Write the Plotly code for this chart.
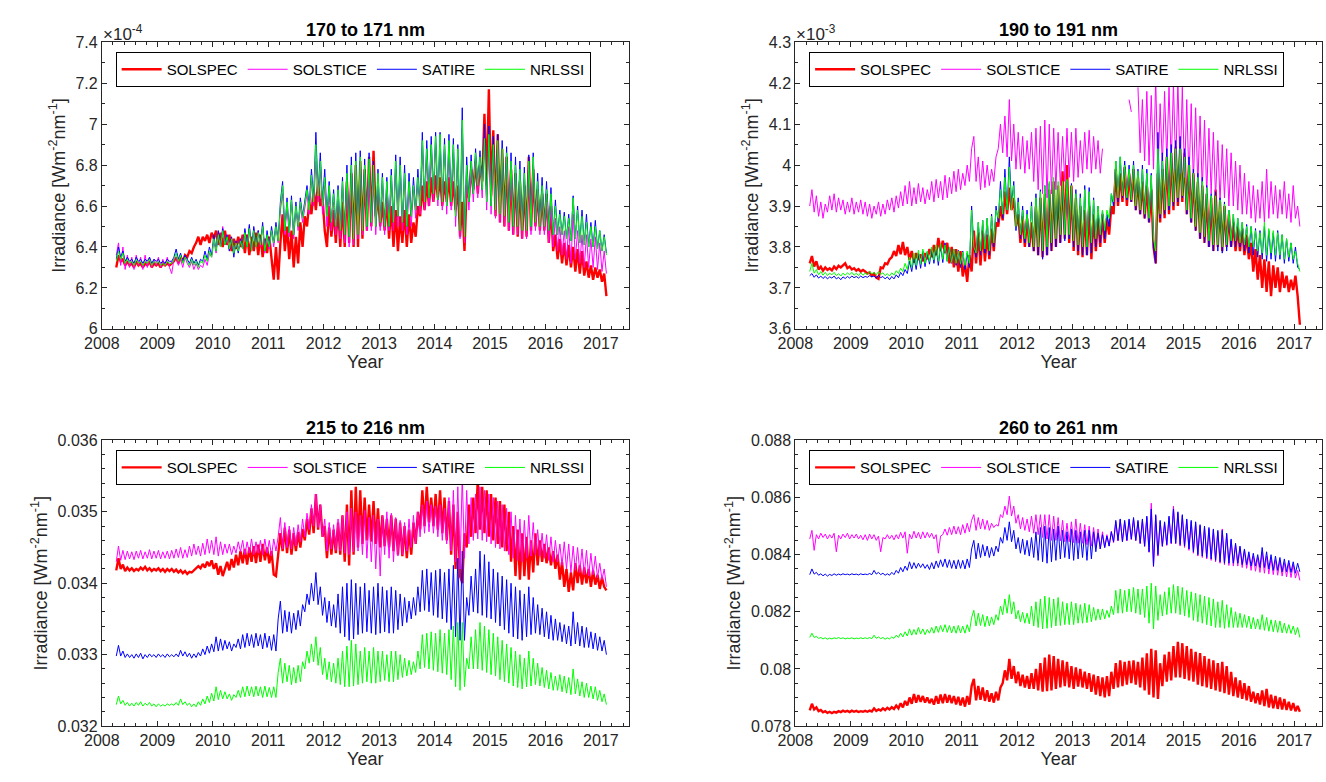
import numpy as np
import plotly.graph_objects as go

# one sample every 0.04 yr, 2008.26 .. 2017.10 (each row below = one year)
years = np.round(2008.26 + 0.04 * np.arange(222), 2)

series_names = ["SOLSPEC", "SOLSTICE", "SATIRE", "NRLSSI"]
series_colors = ["#ff0000", "#ff00ff", "#0000ff", "#00ff00"]
series_widths = [2.4, 1, 1, 1]

# 170-171 nm  (units of 1e-4 W m-2 nm-1)
b170_solspec = [
    6.30, 6.36, 6.33, 6.34, 6.31, 6.33, 6.31, 6.32, 6.30, 6.33, 6.31, 6.32, 6.30, 6.32, 6.31, 6.33, 6.30, 6.32, 6.31, 6.32, 6.30, 6.32, 6.31, 6.32, 6.31,
    6.32, 6.33, 6.35, 6.32, 6.35, 6.33, 6.36, 6.35, 6.38, 6.37, 6.40, 6.42, 6.45, 6.41, 6.45, 6.43, 6.46, 6.42, 6.47, 6.44, 6.48, 6.41, 6.47, 6.40, 6.48,
    6.41, 6.46, 6.38, 6.44, 6.39, 6.45, 6.40, 6.46, 6.37, 6.46, 6.36, 6.45, 6.38, 6.47, 6.36, 6.46, 6.35, 6.44, 6.37, 6.45, 6.36, 6.24, 6.40, 6.24, 6.42,
    6.56, 6.38, 6.50, 6.34, 6.48, 6.30, 6.45, 6.32, 6.52, 6.40, 6.55, 6.50, 6.62, 6.56, 6.68, 6.58, 6.72, 6.60, 6.64, 6.48, 6.40, 6.60, 6.45, 6.58, 6.42,
    6.60, 6.40, 6.62, 6.40, 6.72, 6.42, 6.76, 6.40, 6.80, 6.40, 6.82, 6.44, 6.78, 6.48, 6.84, 6.50, 6.87, 6.55, 6.65, 6.50, 6.62, 6.48, 6.64, 6.44, 6.60,
    6.40, 6.58, 6.38, 6.55, 6.42, 6.58, 6.40, 6.56, 6.42, 6.52, 6.45, 6.60, 6.55, 6.70, 6.58, 6.72, 6.60, 6.74, 6.62, 6.75, 6.64, 6.74, 6.60, 6.72, 6.62,
    6.74, 6.60, 6.72, 6.58, 6.70, 6.45, 6.62, 6.38, 6.70, 6.64, 6.78, 6.68, 6.82, 6.66, 6.80, 6.72, 7.05, 6.70, 7.17, 6.65, 6.97, 6.55, 6.95, 6.52, 6.88,
    6.50, 6.84, 6.48, 6.78, 6.46, 6.76, 6.45, 6.72, 6.44, 6.70, 6.45, 6.84, 6.48, 6.78, 6.50, 6.68, 6.48, 6.66, 6.48, 6.66, 6.42, 6.60, 6.38, 6.46, 6.34,
    6.44, 6.32, 6.42, 6.31, 6.41, 6.30, 6.40, 6.28, 6.39, 6.27, 6.38, 6.26, 6.33, 6.25, 6.31, 6.24, 6.30, 6.25, 6.29, 6.23, 6.27, 6.16]
b170_solstice = [
    6.36, 6.42, 6.31, 6.40, 6.29, 6.36, 6.30, 6.35, 6.29, 6.36, 6.31, 6.35, 6.29, 6.36, 6.30, 6.35, 6.30, 6.34, 6.31, 6.35, 6.30, 6.34, 6.31, 6.35, 6.30,
    6.27, 6.34, 6.35, 6.31, 6.34, 6.30, 6.35, 6.32, 6.30, 6.33, 6.29, 6.32, 6.29, 6.31, 6.30, 6.34, 6.31, 6.37, 6.35, 6.43, 6.37, 6.46, 6.40, 6.50, 6.41,
    6.44, 6.38, 6.44, 6.37, 6.43, 6.38, 6.44, 6.39, 6.48, 6.40, 6.50, 6.38, 6.49, 6.40, 6.48, 6.40, 6.50, 6.37, 6.46, 6.39, 6.48, 6.40, 6.50, 6.42, 6.58,
    6.66, 6.46, 6.60, 6.45, 6.62, 6.44, 6.58, 6.48, 6.60, 6.52, 6.58, 6.66, 6.56, 6.72, 6.60, 6.82, 6.62, 6.78, 6.56, 6.70, 6.50, 6.66, 6.48, 6.62, 6.46,
    6.64, 6.44, 6.70, 6.42, 6.74, 6.40, 6.78, 6.41, 6.80, 6.44, 6.82, 6.46, 6.76, 6.48, 6.74, 6.48, 6.72, 6.46, 6.70, 6.48, 6.70, 6.46, 6.68, 6.48, 6.72,
    6.48, 6.78, 6.50, 6.76, 6.48, 6.72, 6.46, 6.70, 6.50, 6.68, 6.54, 6.72, 6.56, 6.88, 6.58, 6.84, 6.60, 6.86, 6.62, 6.90, 6.60, 6.90, 6.58, 6.88, 6.56,
    6.88, 6.58, 6.86, 6.50, 6.84, 6.44, 6.98, 6.42, 6.76, 6.58, 6.78, 6.62, 6.84, 6.64, 6.82, 6.64, 6.96, 6.58, 6.94, 6.56, 6.88, 6.54, 6.88, 6.52, 6.86,
    6.50, 6.82, 6.48, 6.80, 6.46, 6.76, 6.46, 6.74, 6.44, 6.72, 6.44, 6.78, 6.46, 6.80, 6.48, 6.68, 6.46, 6.66, 6.46, 6.62, 6.42, 6.60, 6.40, 6.54, 6.38,
    6.50, 6.36, 6.48, 6.34, 6.50, 6.32, 6.56, 6.34, 6.48, 6.32, 6.46, 6.30, 6.46, 6.30, 6.44, 6.30, 6.45, 6.29, 6.42, 6.28, 6.38, 6.27]
b170_satire = [
    6.34, 6.40, 6.35, 6.38, 6.33, 6.35, 6.33, 6.34, 6.32, 6.35, 6.33, 6.34, 6.32, 6.34, 6.33, 6.35, 6.32, 6.34, 6.33, 6.34, 6.32, 6.33, 6.32, 6.34, 6.33,
    6.33, 6.35, 6.39, 6.34, 6.37, 6.33, 6.36, 6.34, 6.32, 6.35, 6.32, 6.34, 6.31, 6.34, 6.33, 6.38, 6.34, 6.40, 6.36, 6.46, 6.38, 6.48, 6.40, 6.49, 6.41,
    6.46, 6.38, 6.45, 6.35, 6.43, 6.37, 6.44, 6.39, 6.49, 6.40, 6.51, 6.38, 6.50, 6.40, 6.48, 6.41, 6.52, 6.38, 6.48, 6.40, 6.50, 6.42, 6.52, 6.43, 6.62,
    6.72, 6.48, 6.64, 6.47, 6.65, 6.46, 6.62, 6.50, 6.64, 6.55, 6.62, 6.70, 6.60, 6.78, 6.64, 6.96, 6.66, 6.86, 6.62, 6.78, 6.56, 6.72, 6.52, 6.68, 6.50,
    6.70, 6.48, 6.74, 6.46, 6.80, 6.45, 6.84, 6.44, 6.86, 6.46, 6.87, 6.48, 6.83, 6.50, 6.86, 6.52, 6.82, 6.50, 6.78, 6.52, 6.76, 6.50, 6.74, 6.50, 6.78,
    6.52, 6.85, 6.55, 6.84, 6.52, 6.80, 6.50, 6.76, 6.55, 6.74, 6.58, 6.78, 6.60, 6.96, 6.62, 6.92, 6.64, 6.94, 6.66, 6.96, 6.63, 6.96, 6.62, 6.93, 6.60,
    6.95, 6.62, 6.93, 6.55, 6.90, 6.48, 7.08, 6.45, 6.84, 6.62, 6.85, 6.66, 6.88, 6.70, 6.87, 6.68, 7.00, 6.62, 6.99, 6.60, 6.94, 6.58, 6.95, 6.56, 6.92,
    6.55, 6.89, 6.52, 6.86, 6.50, 6.84, 6.50, 6.82, 6.48, 6.79, 6.48, 6.85, 6.50, 6.86, 6.52, 6.76, 6.50, 6.74, 6.50, 6.72, 6.48, 6.69, 6.46, 6.63, 6.46,
    6.58, 6.46, 6.57, 6.44, 6.56, 6.43, 6.65, 6.44, 6.60, 6.42, 6.58, 6.41, 6.56, 6.40, 6.52, 6.40, 6.53, 6.39, 6.48, 6.38, 6.46, 6.37]
b170_nrlssi = [
    6.33, 6.38, 6.34, 6.37, 6.32, 6.34, 6.32, 6.33, 6.31, 6.34, 6.32, 6.33, 6.31, 6.33, 6.32, 6.34, 6.31, 6.33, 6.32, 6.33, 6.31, 6.32, 6.31, 6.33, 6.32,
    6.32, 6.34, 6.37, 6.33, 6.36, 6.32, 6.35, 6.33, 6.31, 6.34, 6.31, 6.33, 6.30, 6.33, 6.32, 6.36, 6.33, 6.38, 6.35, 6.44, 6.38, 6.46, 6.40, 6.48, 6.41,
    6.45, 6.39, 6.44, 6.37, 6.42, 6.38, 6.43, 6.39, 6.47, 6.40, 6.49, 6.38, 6.48, 6.40, 6.47, 6.41, 6.50, 6.38, 6.46, 6.40, 6.48, 6.42, 6.50, 6.43, 6.60,
    6.70, 6.48, 6.62, 6.47, 6.63, 6.46, 6.60, 6.50, 6.62, 6.54, 6.60, 6.68, 6.58, 6.75, 6.62, 6.90, 6.65, 6.82, 6.60, 6.74, 6.55, 6.70, 6.52, 6.66, 6.50,
    6.68, 6.48, 6.72, 6.46, 6.76, 6.45, 6.80, 6.44, 6.82, 6.46, 6.84, 6.48, 6.80, 6.50, 6.83, 6.52, 6.80, 6.50, 6.76, 6.52, 6.74, 6.50, 6.72, 6.50, 6.75,
    6.52, 6.82, 6.55, 6.80, 6.52, 6.76, 6.50, 6.72, 6.55, 6.70, 6.58, 6.74, 6.60, 6.92, 6.62, 6.88, 6.64, 6.90, 6.66, 6.94, 6.63, 6.95, 6.62, 6.90, 6.60,
    6.92, 6.62, 6.90, 6.55, 6.88, 6.48, 7.02, 6.45, 6.80, 6.62, 6.82, 6.66, 6.86, 6.70, 6.84, 6.68, 6.93, 6.62, 6.95, 6.60, 6.90, 6.58, 6.92, 6.56, 6.88,
    6.55, 6.86, 6.52, 6.82, 6.50, 6.80, 6.50, 6.78, 6.48, 6.76, 6.48, 6.82, 6.50, 6.84, 6.52, 6.72, 6.50, 6.70, 6.50, 6.68, 6.48, 6.66, 6.46, 6.60, 6.46,
    6.56, 6.46, 6.55, 6.44, 6.54, 6.43, 6.64, 6.44, 6.58, 6.42, 6.55, 6.41, 6.52, 6.40, 6.50, 6.40, 6.50, 6.39, 6.48, 6.38, 6.45, 6.36]

# 190-191 nm  (units of 1e-3 W m-2 nm-1); SOLSTICE has a data gap around 2013.6-2014.2
b190_solspec = [
    3.760, 3.778, 3.752, 3.765, 3.745, 3.752, 3.742, 3.750, 3.744, 3.748, 3.743, 3.752, 3.746, 3.754, 3.750, 3.756, 3.760, 3.748, 3.752, 3.745, 3.748, 3.742, 3.746, 3.740, 3.744,
    3.740, 3.735, 3.738, 3.730, 3.735, 3.725, 3.722, 3.750, 3.748, 3.760, 3.758, 3.770, 3.775, 3.790, 3.778, 3.805, 3.782, 3.812, 3.780, 3.800, 3.768, 3.790, 3.762, 3.785, 3.768,
    3.782, 3.765, 3.785, 3.770, 3.795, 3.775, 3.805, 3.780, 3.822, 3.790, 3.815, 3.785, 3.810, 3.760, 3.800, 3.750, 3.795, 3.740, 3.790, 3.728, 3.760, 3.715, 3.780, 3.740, 3.840,
    3.760, 3.835, 3.755, 3.840, 3.765, 3.830, 3.770, 3.845, 3.790, 3.860, 3.850, 3.900, 3.865, 3.935, 3.880, 3.945, 3.890, 3.920, 3.850, 3.880, 3.810, 3.875, 3.800, 3.870, 3.800,
    3.860, 3.790, 3.900, 3.780, 3.920, 3.775, 3.930, 3.780, 3.940, 3.790, 3.960, 3.800, 3.950, 3.810, 3.985, 3.820, 4.000, 3.810, 3.950, 3.790, 3.920, 3.780, 3.900, 3.775, 3.890,
    3.780, 3.900, 3.770, 3.880, 3.790, 3.870, 3.800, 3.880, 3.810, 3.870, 3.830, 3.900, 3.880, 3.990, 3.900, 3.980, 3.910, 3.995, 3.900, 3.980, 3.910, 3.990, 3.890, 3.970, 3.880,
    3.960, 3.870, 3.950, 3.860, 3.940, 3.800, 3.760, 3.980, 3.860, 3.990, 3.870, 4.020, 3.880, 4.030, 3.890, 4.045, 3.900, 4.040, 3.910, 4.030, 3.880, 4.000, 3.860, 3.980, 3.840,
    3.960, 3.820, 3.950, 3.810, 3.930, 3.800, 3.920, 3.790, 3.940, 3.800, 3.910, 3.790, 3.900, 3.800, 3.880, 3.800, 3.860, 3.790, 3.850, 3.790, 3.845, 3.780, 3.830, 3.770, 3.810,
    3.740, 3.795, 3.720, 3.780, 3.700, 3.770, 3.690, 3.765, 3.680, 3.755, 3.700, 3.750, 3.690, 3.740, 3.700, 3.730, 3.690, 3.720, 3.695, 3.730, 3.680, 3.610]
b190_solstice = [
    3.900, 3.940, 3.885, 3.925, 3.875, 3.910, 3.870, 3.905, 3.885, 3.925, 3.890, 3.930, 3.885, 3.920, 3.890, 3.915, 3.880, 3.910, 3.885, 3.920, 3.880, 3.910, 3.885, 3.915, 3.880,
    3.910, 3.875, 3.905, 3.870, 3.900, 3.880, 3.910, 3.875, 3.905, 3.880, 3.915, 3.890, 3.920, 3.885, 3.925, 3.895, 3.935, 3.900, 3.950, 3.905, 3.960, 3.900, 3.945, 3.905, 3.955,
    3.910, 3.945, 3.905, 3.940, 3.915, 3.960, 3.910, 3.965, 3.920, 3.960, 3.915, 3.975, 3.920, 3.970, 3.930, 3.985, 3.935, 3.990, 3.940, 3.980, 3.950, 4.000, 3.960, 4.040, 4.070,
    3.960, 4.020, 3.940, 4.010, 3.945, 4.000, 3.950, 3.990, 3.960, 4.020, 4.040, 4.100, 4.030, 4.120, 4.020, 4.160, 4.010, 4.100, 3.990, 4.080, 3.990, 4.070, 3.980, 4.060, 3.990,
    4.080, 3.960, 4.090, 3.940, 4.095, 3.930, 4.110, 3.920, 4.100, 3.930, 4.090, 3.940, 4.080, 3.950, 4.070, 3.960, 4.090, 3.970, 4.080, 3.960, 4.090, 3.970, 4.060, 3.980, 4.080,
    3.990, 4.085, 3.980, 4.070, 3.990, 4.060, 3.980, 4.040, None, None, None, None, None, None, None, None, None, None, None, 4.160, 4.130, None, None, 4.190, 4.030,
    4.160, 4.010, 4.180, 4.000, 4.170, 3.990, 4.210, 3.970, 4.150, 4.000, 4.180, 4.010, 4.190, 4.000, 4.200, 3.990, 4.205, 3.980, 4.190, 3.970, 4.160, 3.960, 4.150, 3.960, 4.140,
    3.950, 4.120, 3.940, 4.110, 3.930, 4.090, 3.930, 4.080, 3.920, 4.060, 3.910, 4.050, 3.920, 4.040, 3.900, 4.030, 3.900, 4.010, 3.890, 4.000, 3.880, 3.980, 3.880, 3.960, 3.870,
    3.950, 3.860, 3.940, 3.870, 3.960, 3.860, 3.990, 3.870, 3.960, 3.880, 3.950, 3.870, 3.940, 3.880, 3.960, 3.870, 3.930, 3.860, 3.950, 3.870, 3.900, 3.850]
b190_satire = [
    3.730, 3.735, 3.726, 3.732, 3.724, 3.729, 3.723, 3.728, 3.722, 3.727, 3.724, 3.729, 3.722, 3.726, 3.720, 3.727, 3.723, 3.728, 3.724, 3.729, 3.725, 3.728, 3.724, 3.729, 3.725,
    3.728, 3.726, 3.730, 3.727, 3.729, 3.724, 3.731, 3.725, 3.728, 3.722, 3.727, 3.720, 3.728, 3.722, 3.732, 3.725, 3.738, 3.730, 3.745, 3.735, 3.765, 3.740, 3.775, 3.745, 3.785,
    3.748, 3.790, 3.752, 3.788, 3.758, 3.795, 3.760, 3.800, 3.755, 3.805, 3.762, 3.810, 3.765, 3.800, 3.760, 3.795, 3.755, 3.792, 3.750, 3.790, 3.745, 3.785, 3.750, 3.900, 3.800,
    3.775, 3.860, 3.780, 3.865, 3.785, 3.870, 3.780, 3.880, 3.800, 3.900, 3.860, 3.960, 3.870, 3.990, 3.890, 4.020, 3.900, 3.960, 3.840, 3.920, 3.820, 3.900, 3.810, 3.890, 3.800,
    3.910, 3.790, 3.930, 3.780, 3.940, 3.770, 3.950, 3.780, 3.955, 3.790, 3.960, 3.800, 3.945, 3.810, 3.950, 3.815, 3.960, 3.820, 3.955, 3.800, 3.940, 3.790, 3.930, 3.780, 3.950,
    3.780, 3.945, 3.785, 3.920, 3.800, 3.900, 3.810, 3.890, 3.820, 3.880, 3.850, 3.930, 3.900, 4.010, 3.910, 4.020, 3.920, 4.010, 3.915, 4.000, 3.910, 4.010, 3.890, 3.990, 3.880,
    4.000, 3.870, 3.990, 3.860, 3.980, 3.800, 3.760, 4.080, 3.870, 4.030, 3.880, 4.040, 3.890, 4.050, 3.900, 4.060, 3.910, 4.070, 3.920, 4.040, 3.880, 4.020, 3.860, 3.990, 3.840,
    3.980, 3.820, 3.970, 3.810, 3.950, 3.800, 3.930, 3.790, 3.935, 3.790, 3.920, 3.785, 3.910, 3.790, 3.890, 3.800, 3.880, 3.800, 3.870, 3.800, 3.860, 3.790, 3.855, 3.785, 3.850,
    3.780, 3.845, 3.775, 3.840, 3.770, 3.850, 3.765, 3.840, 3.770, 3.835, 3.765, 3.840, 3.770, 3.830, 3.760, 3.820, 3.765, 3.810, 3.760, 3.800, 3.750, 3.745]
b190_nrlssi = [
    3.740, 3.760, 3.736, 3.745, 3.732, 3.740, 3.731, 3.738, 3.730, 3.736, 3.732, 3.738, 3.730, 3.735, 3.729, 3.736, 3.731, 3.737, 3.732, 3.738, 3.731, 3.736, 3.730, 3.737, 3.731,
    3.736, 3.733, 3.740, 3.734, 3.738, 3.732, 3.740, 3.733, 3.737, 3.730, 3.735, 3.729, 3.737, 3.731, 3.742, 3.735, 3.748, 3.740, 3.760, 3.745, 3.775, 3.750, 3.785, 3.755, 3.792,
    3.758, 3.795, 3.760, 3.790, 3.765, 3.800, 3.768, 3.805, 3.765, 3.808, 3.770, 3.805, 3.765, 3.800, 3.762, 3.795, 3.760, 3.790, 3.758, 3.788, 3.755, 3.790, 3.760, 3.890, 3.800,
    3.785, 3.860, 3.790, 3.865, 3.795, 3.870, 3.790, 3.875, 3.810, 3.890, 3.870, 3.940, 3.880, 3.970, 3.890, 3.995, 3.890, 3.950, 3.850, 3.910, 3.830, 3.890, 3.820, 3.880, 3.810,
    3.900, 3.800, 3.920, 3.800, 3.935, 3.790, 3.950, 3.800, 3.960, 3.810, 3.970, 3.820, 3.960, 3.830, 3.960, 3.830, 3.965, 3.830, 3.950, 3.815, 3.930, 3.805, 3.920, 3.800, 3.940,
    3.800, 3.935, 3.810, 3.915, 3.820, 3.900, 3.830, 3.890, 3.840, 3.890, 3.870, 3.930, 3.910, 4.010, 3.920, 4.020, 3.925, 4.000, 3.920, 3.990, 3.915, 4.000, 3.900, 3.985, 3.890,
    3.990, 3.880, 3.980, 3.870, 3.975, 3.820, 3.790, 4.040, 3.880, 4.010, 3.890, 4.020, 3.900, 4.030, 3.910, 4.040, 3.920, 4.040, 3.925, 4.020, 3.890, 4.000, 3.870, 3.980, 3.850,
    3.970, 3.835, 3.960, 3.825, 3.945, 3.815, 3.925, 3.805, 3.925, 3.805, 3.915, 3.800, 3.905, 3.805, 3.890, 3.815, 3.880, 3.815, 3.870, 3.810, 3.860, 3.805, 3.850, 3.800, 3.850,
    3.800, 3.840, 3.790, 3.835, 3.785, 3.860, 3.780, 3.845, 3.785, 3.840, 3.780, 3.835, 3.780, 3.830, 3.770, 3.820, 3.775, 3.810, 3.770, 3.790, 3.760, 3.740]

# 215-216 nm  (units of 1e-3 W m-2 nm-1)
b215_solspec = [
    34.18, 34.35, 34.20, 34.26, 34.17, 34.22, 34.18, 34.21, 34.17, 34.20, 34.18, 34.22, 34.19, 34.23, 34.18, 34.21, 34.17, 34.20, 34.18, 34.21, 34.17, 34.20, 34.16, 34.20, 34.17,
    34.20, 34.16, 34.19, 34.15, 34.18, 34.14, 34.17, 34.13, 34.16, 34.15, 34.18, 34.20, 34.24, 34.21, 34.27, 34.22, 34.30, 34.24, 34.32, 34.20, 34.28, 34.12, 34.24, 34.10, 34.22,
    34.30, 34.18, 34.34, 34.22, 34.40, 34.25, 34.45, 34.28, 34.48, 34.26, 34.50, 34.30, 34.52, 34.28, 34.54, 34.30, 34.55, 34.32, 34.50, 34.28, 34.45, 34.12, 34.10, 34.40, 34.70,
    34.45, 34.78, 34.42, 34.75, 34.40, 34.70, 34.45, 34.72, 34.50, 34.76, 34.60, 34.90, 34.68, 35.05, 34.70, 35.25, 34.75, 35.10, 34.65, 34.80, 34.35, 34.78, 34.40, 34.75, 34.42,
    34.85, 34.40, 34.95, 34.30, 35.10, 34.25, 35.30, 34.40, 35.35, 34.50, 35.30, 34.55, 35.20, 34.60, 35.10, 34.58, 35.15, 34.55, 35.05, 34.50, 34.95, 34.52, 34.90, 34.50, 34.95,
    34.45, 34.90, 34.40, 34.85, 34.38, 34.80, 34.35, 34.75, 34.40, 34.85, 34.55, 35.00, 34.75, 35.30, 34.80, 35.35, 34.85, 35.20, 34.80, 35.25, 34.75, 35.30, 34.70, 35.20, 34.60,
    35.15, 34.40, 35.10, 34.20, 35.00, 34.10, 34.00, 34.70, 34.50, 35.10, 34.65, 35.20, 34.70, 35.45, 34.75, 35.35, 34.70, 35.30, 34.65, 35.25, 34.60, 35.20, 34.55, 35.15, 34.50,
    35.10, 34.45, 35.00, 34.30, 34.80, 34.10, 34.75, 34.05, 34.70, 34.10, 34.65, 34.05, 34.60, 34.15, 34.70, 34.25, 34.60, 34.30, 34.55, 34.28, 34.50, 34.25, 34.45, 34.20, 34.40,
    34.05, 34.30, 33.95, 34.20, 33.88, 34.15, 33.90, 34.28, 34.00, 34.25, 33.98, 34.22, 34.00, 34.20, 33.95, 34.18, 33.98, 34.12, 33.92, 34.08, 33.95, 33.90]
b215_solstice = [
    34.30, 34.52, 34.32, 34.46, 34.33, 34.45, 34.34, 34.44, 34.33, 34.45, 34.35, 34.46, 34.34, 34.44, 34.35, 34.47, 34.34, 34.45, 34.35, 34.46, 34.34, 34.44, 34.35, 34.45, 34.34,
    34.46, 34.35, 34.48, 34.36, 34.50, 34.35, 34.47, 34.36, 34.52, 34.38, 34.55, 34.40, 34.52, 34.38, 34.56, 34.40, 34.62, 34.42, 34.60, 34.40, 34.65, 34.38, 34.58, 34.40, 34.55,
    34.42, 34.55, 34.40, 34.52, 34.42, 34.58, 34.44, 34.60, 34.40, 34.58, 34.42, 34.62, 34.40, 34.58, 34.42, 34.60, 34.40, 34.62, 34.42, 34.60, 34.38, 34.62, 34.45, 34.65, 34.92,
    34.48, 34.85, 34.50, 34.80, 34.48, 34.78, 34.52, 34.82, 34.58, 34.90, 34.65, 34.98, 34.75, 35.10, 34.80, 35.25, 34.78, 35.10, 34.65, 34.90, 34.45, 34.85, 34.48, 34.82, 34.46,
    34.90, 34.45, 34.95, 34.42, 35.00, 34.40, 35.05, 34.44, 35.00, 34.45, 34.95, 34.40, 35.02, 34.35, 34.92, 34.30, 34.95, 34.20, 34.90, 34.10, 34.95, 34.40, 35.00, 34.35, 34.98,
    34.30, 34.92, 34.38, 34.88, 34.40, 34.85, 34.45, 34.90, 34.50, 34.95, 34.55, 35.00, 34.65, 35.10, 34.70, 35.15, 34.72, 35.10, 34.70, 35.08, 34.65, 35.10, 34.60, 35.05, 34.55,
    35.20, 34.45, 35.30, 34.30, 35.35, 34.20, 35.50, 34.35, 35.30, 34.55, 35.20, 34.60, 35.25, 34.62, 35.35, 34.60, 35.30, 34.58, 35.25, 34.55, 35.20, 34.50, 35.15, 34.48, 35.10,
    34.45, 35.05, 34.40, 35.00, 34.35, 34.95, 34.32, 34.90, 34.30, 34.88, 34.35, 34.95, 34.38, 34.85, 34.40, 34.75, 34.38, 34.70, 34.35, 34.68, 34.32, 34.65, 34.30, 34.60, 34.30,
    34.55, 34.25, 34.58, 34.20, 34.55, 34.15, 34.52, 34.18, 34.50, 34.15, 34.48, 34.12, 34.46, 34.10, 34.42, 34.12, 34.38, 34.08, 34.28, 34.05, 34.20, 33.95]
b215_satire = [
    32.98, 33.13, 32.98, 33.05, 32.96, 33.01, 32.96, 33.00, 32.95, 33.01, 32.96, 33.02, 32.94, 33.00, 32.96, 33.01, 32.97, 33.00, 32.96, 33.01, 32.97, 33.00, 32.96, 33.01, 32.97,
    33.00, 32.97, 33.01, 32.97, 33.06, 32.98, 33.04, 32.97, 33.02, 32.95, 33.01, 32.96, 33.03, 32.98, 33.08, 33.00, 33.12, 33.02, 33.15, 33.04, 33.25, 33.05, 33.22, 33.06, 33.20,
    33.08, 33.18, 33.05, 33.15, 33.10, 33.22, 33.08, 33.28, 33.10, 33.30, 33.12, 33.28, 33.10, 33.30, 33.12, 33.28, 33.08, 33.30, 33.10, 33.26, 33.06, 33.28, 33.05, 33.50, 33.75,
    33.30, 33.62, 33.32, 33.60, 33.30, 33.58, 33.35, 33.62, 33.40, 33.70, 33.60, 33.85, 33.70, 34.00, 33.75, 34.15, 33.70, 33.95, 33.55, 33.80, 33.45, 33.75, 33.40, 33.70, 33.38,
    33.85, 33.30, 33.95, 33.25, 34.00, 33.20, 34.05, 33.22, 34.00, 33.28, 33.95, 33.30, 34.00, 33.32, 33.90, 33.30, 33.95, 33.28, 34.00, 33.30, 33.95, 33.32, 33.90, 33.30, 33.95,
    33.30, 33.90, 33.35, 33.85, 33.40, 33.80, 33.45, 33.75, 33.50, 33.80, 33.55, 33.95, 33.60, 34.18, 33.62, 34.20, 33.60, 34.15, 33.55, 34.18, 33.52, 34.20, 33.50, 34.15, 33.45,
    34.20, 33.35, 34.25, 33.25, 34.35, 33.20, 34.45, 33.20, 33.80, 33.55, 34.10, 33.60, 34.20, 33.58, 34.45, 33.55, 34.40, 33.52, 34.30, 33.50, 34.20, 33.45, 34.15, 33.40, 34.10,
    33.35, 34.05, 33.30, 34.00, 33.25, 33.95, 33.22, 33.90, 33.20, 33.85, 33.25, 33.95, 33.28, 33.80, 33.30, 33.70, 33.28, 33.65, 33.25, 33.60, 33.22, 33.55, 33.20, 33.50, 33.20,
    33.45, 33.18, 33.42, 33.15, 33.40, 33.12, 33.60, 33.15, 33.45, 33.12, 33.40, 33.10, 33.38, 33.10, 33.32, 33.08, 33.30, 33.06, 33.25, 33.05, 33.20, 33.00]
b215_nrlssi = [
    32.30, 32.42, 32.31, 32.36, 32.29, 32.33, 32.28, 32.32, 32.28, 32.33, 32.29, 32.34, 32.28, 32.32, 32.29, 32.33, 32.28, 32.31, 32.27, 32.31, 32.28, 32.30, 32.28, 32.31, 32.29,
    32.31, 32.29, 32.33, 32.29, 32.38, 32.30, 32.34, 32.29, 32.32, 32.27, 32.31, 32.27, 32.34, 32.29, 32.38, 32.31, 32.42, 32.33, 32.46, 32.35, 32.55, 32.37, 32.50, 32.38, 32.48,
    32.38, 32.45, 32.36, 32.44, 32.40, 32.50, 32.40, 32.55, 32.41, 32.56, 32.42, 32.55, 32.41, 32.56, 32.42, 32.55, 32.40, 32.56, 32.41, 32.54, 32.40, 32.55, 32.40, 32.75, 32.95,
    32.60, 32.88, 32.62, 32.85, 32.58, 32.82, 32.60, 32.85, 32.62, 32.90, 32.80, 33.05, 32.88, 33.15, 32.90, 33.25, 32.85, 33.10, 32.72, 32.95, 32.65, 32.90, 32.62, 32.88, 32.60,
    32.95, 32.58, 33.05, 32.55, 33.12, 32.55, 33.20, 32.56, 33.15, 32.58, 33.05, 32.60, 33.10, 32.62, 33.05, 32.60, 33.10, 32.60, 33.05, 32.62, 33.05, 32.64, 33.00, 32.62, 33.05,
    32.62, 33.05, 32.65, 33.00, 32.68, 32.95, 32.70, 32.92, 32.72, 32.90, 32.75, 33.05, 32.80, 33.28, 32.82, 33.30, 32.80, 33.32, 32.78, 33.30, 32.76, 33.35, 32.74, 33.30, 32.72,
    33.35, 32.65, 33.40, 32.55, 33.45, 32.50, 33.45, 32.55, 32.95, 32.80, 33.25, 32.80, 33.35, 32.80, 33.45, 32.78, 33.40, 32.75, 33.35, 32.72, 33.30, 32.70, 33.25, 32.65, 33.20,
    32.62, 33.15, 32.60, 33.10, 32.56, 33.05, 32.54, 33.00, 32.52, 32.95, 32.55, 33.05, 32.56, 32.95, 32.58, 32.88, 32.56, 32.82, 32.54, 32.78, 32.52, 32.75, 32.50, 32.70, 32.50,
    32.72, 32.48, 32.70, 32.46, 32.68, 32.44, 32.80, 32.45, 32.66, 32.42, 32.62, 32.40, 32.60, 32.40, 32.56, 32.38, 32.55, 32.36, 32.50, 32.34, 32.45, 32.30]

# 260-261 nm  (units of 1e-3 W m-2 nm-1)
b260_solspec = [
    78.55, 78.78, 78.58, 78.65, 78.52, 78.56, 78.48, 78.52, 78.46, 78.50, 78.45, 78.50, 78.47, 78.52, 78.49, 78.54, 78.50, 78.53, 78.49, 78.54, 78.50, 78.53, 78.49, 78.52, 78.50,
    78.53, 78.50, 78.54, 78.51, 78.62, 78.53, 78.58, 78.54, 78.62, 78.56, 78.64, 78.58, 78.66, 78.60, 78.72, 78.62, 78.80, 78.65, 78.88, 78.72, 79.00, 78.78, 79.12, 78.82, 79.08,
    78.85, 79.05, 78.82, 79.00, 78.80, 78.95, 78.75, 79.05, 78.78, 79.10, 78.80, 79.12, 78.82, 79.08, 78.80, 79.05, 78.76, 79.02, 78.72, 79.00, 78.68, 79.05, 78.75, 79.40, 79.65,
    78.90, 79.40, 78.92, 79.35, 78.88, 79.25, 78.85, 79.15, 78.82, 79.20, 78.90, 79.35, 79.50, 79.95, 79.60, 80.35, 79.65, 80.10, 79.50, 79.90, 79.40, 79.80, 79.35, 79.75, 79.30,
    79.85, 79.30, 80.00, 79.25, 80.20, 79.20, 80.40, 79.22, 80.50, 79.25, 80.45, 79.30, 80.35, 79.35, 80.30, 79.40, 80.25, 79.35, 80.10, 79.30, 80.05, 79.38, 80.00, 79.35, 79.90,
    79.30, 79.85, 79.20, 79.80, 79.10, 79.75, 79.05, 79.70, 79.00, 79.75, 79.05, 79.90, 79.30, 80.20, 79.35, 80.30, 79.40, 80.25, 79.45, 80.28, 79.50, 80.30, 79.45, 80.25, 79.35,
    80.40, 79.25, 80.55, 79.10, 80.70, 79.00, 80.65, 78.95, 80.20, 79.40, 80.50, 79.55, 80.60, 79.60, 80.80, 79.70, 80.95, 79.70, 80.90, 79.65, 80.80, 79.60, 80.70, 79.55, 80.60,
    79.45, 80.55, 79.40, 80.45, 79.35, 80.35, 79.30, 80.30, 79.25, 80.20, 79.20, 80.25, 79.15, 80.10, 79.10, 79.90, 79.05, 79.70, 79.00, 79.60, 78.95, 79.50, 78.90, 79.40, 78.85,
    79.20, 78.80, 79.15, 78.75, 79.25, 78.70, 79.30, 78.65, 79.10, 78.62, 79.05, 78.60, 79.00, 78.58, 78.95, 78.56, 78.85, 78.55, 78.80, 78.52, 78.70, 78.50]
b260_solstice = [
    84.55, 84.85, 84.15, 84.70, 84.55, 84.75, 84.60, 84.72, 84.55, 84.70, 84.58, 84.75, 84.10, 84.68, 84.55, 84.72, 84.60, 84.75, 84.55, 84.70, 84.58, 84.72, 84.55, 84.68, 84.52,
    84.70, 84.50, 84.72, 84.55, 84.70, 84.50, 84.65, 84.10, 84.60, 84.55, 84.70, 84.55, 84.68, 84.52, 84.70, 84.55, 84.78, 84.58, 84.80, 84.05, 84.72, 84.55, 84.82, 84.58, 84.78,
    84.55, 84.80, 84.58, 84.78, 84.60, 84.75, 84.55, 84.70, 84.05, 84.65, 84.70, 84.90, 84.68, 84.95, 84.70, 85.00, 84.72, 84.98, 84.70, 85.05, 84.75, 85.10, 84.80, 85.20, 85.40,
    84.85, 85.30, 84.90, 85.25, 84.88, 85.20, 84.85, 85.10, 84.95, 85.05, 85.00, 85.40, 85.30, 85.70, 85.40, 86.05, 85.35, 85.70, 85.10, 85.40, 84.90, 85.30, 84.85, 85.25, 84.80,
    85.35, 84.75, 85.40, 84.70, 85.40, 84.60, 85.40, 84.55, 85.40, 84.50, 85.35, 84.50, 85.30, 84.48, 85.20, 84.45, 85.10, 84.45, 85.15, 84.42, 85.25, 84.40, 85.10, 84.40, 85.05,
    84.35, 85.00, 84.30, 84.95, 84.25, 84.90, 84.20, 84.80, 84.25, 84.70, 84.30, 84.82, 84.42, 85.15, 84.48, 85.22, 84.45, 85.15, 84.48, 85.20, 84.52, 85.25, 84.48, 85.15, 84.38,
    85.20, 84.28, 85.30, 84.08, 85.80, 83.58, 85.35, 83.95, 85.15, 84.28, 85.10, 84.32, 85.30, 84.38, 85.70, 84.38, 85.45, 84.30, 85.35, 84.25, 85.20, 84.15, 85.15, 84.05, 85.10,
    83.95, 85.00, 83.90, 84.95, 83.85, 84.90, 83.80, 84.85, 83.75, 84.80, 83.70, 84.90, 83.65, 84.70, 83.62, 84.50, 83.60, 84.35, 83.60, 84.25, 83.55, 84.15, 83.52, 84.00, 83.45,
    83.95, 83.42, 83.90, 83.38, 84.10, 83.35, 83.95, 83.32, 83.90, 83.30, 83.82, 83.28, 83.80, 83.25, 83.72, 83.22, 83.70, 83.20, 83.65, 83.18, 83.45, 83.10]
b260_satire = [
    83.30, 83.50, 83.32, 83.38, 83.28, 83.33, 83.26, 83.32, 83.25, 83.31, 83.27, 83.33, 83.28, 83.32, 83.29, 83.33, 83.30, 83.32, 83.29, 83.33, 83.30, 83.32, 83.29, 83.33, 83.30,
    83.32, 83.30, 83.34, 83.30, 83.45, 83.32, 83.38, 83.30, 83.35, 83.28, 83.33, 83.28, 83.38, 83.30, 83.45, 83.35, 83.55, 83.40, 83.60, 83.45, 83.75, 83.50, 83.72, 83.52, 83.70,
    83.55, 83.68, 83.52, 83.65, 83.48, 83.72, 83.50, 83.78, 83.55, 83.82, 83.58, 83.85, 83.55, 83.82, 83.52, 83.80, 83.50, 83.82, 83.52, 83.80, 83.50, 83.85, 83.55, 84.20, 84.50,
    83.85, 84.40, 83.90, 84.35, 83.95, 84.30, 83.90, 84.25, 83.95, 84.30, 84.10, 84.60, 84.40, 84.95, 84.50, 85.15, 84.45, 84.85, 84.20, 84.60, 84.05, 84.55, 84.00, 84.50, 83.95,
    84.60, 83.90, 84.80, 83.80, 84.95, 83.75, 85.00, 83.70, 84.95, 83.75, 84.90, 83.80, 85.00, 83.85, 84.85, 83.90, 84.80, 83.85, 84.90, 83.80, 84.85, 83.85, 84.80, 83.90, 84.85,
    83.80, 84.85, 83.85, 84.80, 84.10, 84.75, 84.20, 84.70, 84.25, 84.65, 84.30, 84.80, 84.45, 85.20, 84.50, 85.25, 84.45, 85.20, 84.50, 85.25, 84.55, 85.30, 84.50, 85.20, 84.40,
    85.25, 84.30, 85.35, 84.10, 85.60, 83.60, 85.40, 84.00, 85.20, 84.30, 85.15, 84.35, 85.35, 84.40, 85.60, 84.40, 85.50, 84.35, 85.40, 84.30, 85.25, 84.20, 85.20, 84.10, 85.15,
    84.00, 85.05, 83.95, 85.00, 83.90, 84.95, 83.85, 84.90, 83.80, 84.85, 83.75, 84.85, 83.70, 84.75, 83.70, 84.55, 83.70, 84.40, 83.70, 84.30, 83.65, 84.20, 83.65, 84.10, 83.60,
    84.05, 83.60, 84.00, 83.55, 84.25, 83.55, 84.10, 83.50, 84.00, 83.45, 83.95, 83.45, 83.90, 83.40, 83.85, 83.40, 83.80, 83.38, 83.75, 83.35, 83.70, 83.40]
b260_nrlssi = [
    81.10, 81.25, 81.10, 81.14, 81.07, 81.10, 81.05, 81.09, 81.04, 81.08, 81.05, 81.09, 81.06, 81.10, 81.06, 81.09, 81.05, 81.08, 81.06, 81.09, 81.05, 81.08, 81.06, 81.09, 81.06,
    81.09, 81.06, 81.10, 81.06, 81.18, 81.07, 81.12, 81.06, 81.10, 81.04, 81.09, 81.05, 81.12, 81.07, 81.18, 81.10, 81.25, 81.12, 81.30, 81.15, 81.40, 81.18, 81.38, 81.20, 81.45,
    81.22, 81.40, 81.20, 81.38, 81.25, 81.45, 81.25, 81.50, 81.28, 81.52, 81.30, 81.55, 81.28, 81.52, 81.26, 81.50, 81.25, 81.52, 81.26, 81.50, 81.25, 81.55, 81.30, 81.80, 82.05,
    81.50, 81.95, 81.52, 81.90, 81.48, 81.85, 81.50, 81.82, 81.55, 81.90, 81.70, 82.20, 81.90, 82.45, 81.95, 82.60, 81.92, 82.35, 81.75, 82.05, 81.65, 81.98, 81.60, 81.95, 81.58,
    82.20, 81.50, 82.35, 81.45, 82.45, 81.40, 82.55, 81.42, 82.50, 81.45, 82.45, 81.50, 82.50, 81.52, 82.35, 81.55, 82.30, 81.55, 82.35, 81.55, 82.30, 81.60, 82.25, 81.60, 82.30,
    81.62, 82.25, 81.65, 82.15, 81.70, 82.10, 81.72, 82.10, 81.75, 82.05, 81.80, 82.20, 81.90, 82.75, 81.95, 82.80, 81.95, 82.75, 82.00, 82.80, 82.00, 82.85, 81.95, 82.80, 81.90,
    82.80, 81.80, 82.90, 81.60, 83.00, 81.40, 82.90, 81.70, 82.60, 81.85, 82.70, 81.90, 82.85, 81.95, 82.95, 81.95, 82.90, 81.90, 82.85, 81.85, 82.75, 81.80, 82.70, 81.70, 82.65,
    81.65, 82.60, 81.60, 82.55, 81.55, 82.50, 81.50, 82.45, 81.45, 82.35, 81.45, 82.40, 81.42, 82.25, 81.45, 82.15, 81.45, 82.00, 81.45, 81.95, 81.45, 81.90, 81.45, 81.85, 81.40,
    81.80, 81.40, 81.75, 81.38, 81.90, 81.35, 81.80, 81.32, 81.72, 81.30, 81.70, 81.28, 81.68, 81.26, 81.60, 81.25, 81.55, 81.24, 81.50, 81.20, 81.45, 81.10]

W, H = 1326, 782
FONT = "Liberation Sans, Arial, Helvetica, sans-serif"
AXC = "#262626"

# pixel boxes of the four axes: (left, right, top, bottom)
boxes = [(85, 619, 35, 328), (788, 1322, 35, 328),
         (85, 619, 442, 734), (788, 1322, 442, 734)]

panels = [
    dict(title="170 to 171 nm", data=[b170_solspec, b170_solstice, b170_satire, b170_nrlssi],
         scale=1.0, yrange=[6, 7.4], dtick=0.2, minor=0.1, expo="×10<sup>-4</sup>"),
    dict(title="190 to 191 nm", data=[b190_solspec, b190_solstice, b190_satire, b190_nrlssi],
         scale=1.0, yrange=[3.6, 4.3], dtick=0.1, minor=0.05, expo="×10<sup>-3</sup>"),
    dict(title="215 to 216 nm", data=[b215_solspec, b215_solstice, b215_satire, b215_nrlssi],
         scale=1e-3, yrange=[0.032, 0.036], dtick=0.001, minor=0.0002, expo=None),
    dict(title="260 to 261 nm", data=[b260_solspec, b260_solstice, b260_satire, b260_nrlssi],
         scale=1e-3, yrange=[0.078, 0.088], dtick=0.002, minor=0.0005, expo=None),
]

fig = go.Figure()
annotations = []
layout = {}

for i, (p, (x0, x1, y0, y1)) in enumerate(zip(panels, boxes)):
    n = "" if i == 0 else str(i + 1)
    leg = "legend" + n
    for vals, name, col, lw in zip(p["data"], series_names, series_colors, series_widths):
        assert len(vals) == len(years), (p["title"], name, len(vals))
        y = np.array(vals, dtype=float) * p["scale"]
        fig.add_trace(go.Scatter(x=years, y=y, mode="lines", name=name,
                                 line=dict(color=col, width=lw),
                                 xaxis="x" + n, yaxis="y" + n, legend=leg))

    layout["xaxis" + n] = dict(
        domain=[x0 / W, x1 / W], anchor="y" + n, range=[2008, 2017.5],
        tick0=2008, dtick=1, ticks="inside", ticklen=5, tickcolor=AXC,
        minor=dict(dtick=0.2, ticks="inside", ticklen=3, tickcolor=AXC),
        showline=True, linecolor=AXC, linewidth=1, mirror="allticks",
        showgrid=False, zeroline=False,
        tickfont=dict(size=16, color=AXC, family=FONT),
        title=dict(text="Year", font=dict(size=18, color=AXC, family=FONT), standoff=4))
    layout["yaxis" + n] = dict(
        domain=[1 - y1 / H, 1 - y0 / H], anchor="x" + n, range=p["yrange"],
        tick0=p["yrange"][0], dtick=p["dtick"], ticks="inside", ticklen=5, tickcolor=AXC,
        minor=dict(dtick=p["minor"], ticks="inside", ticklen=3, tickcolor=AXC),
        showline=True, linecolor=AXC, linewidth=1, mirror="allticks",
        showgrid=False, zeroline=False,
        tickfont=dict(size=16, color=AXC, family=FONT),
        title=dict(text="Irradiance [Wm<sup>-2</sup>nm<sup>-1</sup>]",
                   font=dict(size=18, color=AXC, family=FONT), standoff=5))
    layout[leg] = dict(
        orientation="h", x=(x0 + 14) / W, y=1 - (y0 + 10) / H,
        xanchor="left", yanchor="top", bgcolor="white",
        bordercolor="black", borderwidth=1, itemwidth=40,
        font=dict(size=15, color="black", family=FONT))

    annotations.append(dict(text="<b>" + p["title"] + "</b>", xref="paper", yref="paper",
                            x=(x0 + x1) / 2 / W, y=1 - (y0 - 13) / H,
                            xanchor="center", yanchor="middle", showarrow=False,
                            font=dict(size=18, color="black", family=FONT)))
    if p["expo"]:
        annotations.append(dict(text=p["expo"], xref="paper", yref="paper",
                                x=(x0 - 1) / W, y=1 - (y0 - 9) / H,
                                xanchor="left", yanchor="middle", showarrow=False,
                                font=dict(size=17, color=AXC, family=FONT)))

fig.update_layout(**layout)
fig.update_layout(width=W, height=H, margin=dict(l=0, r=0, t=0, b=0),
                  paper_bgcolor="white", plot_bgcolor="white",
                  annotations=annotations, font=dict(family=FONT))

fig.write_html("out.html", config={"displayModeBar": False},
               post_script="document.body.style.margin='0px';")
